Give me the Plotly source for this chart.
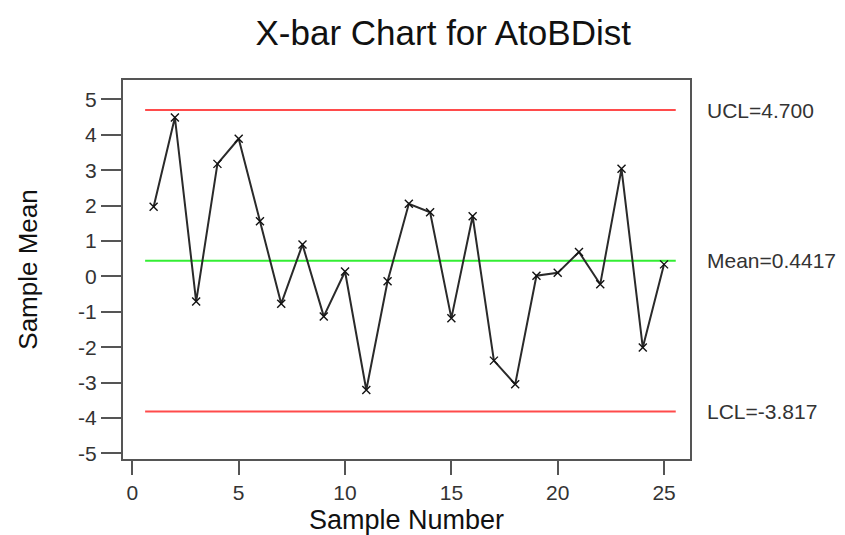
import plotly.graph_objects as go

samples = list(range(1, 26))
means = [1.97, 4.49, -0.71, 3.18, 3.89, 1.56, -0.77, 0.90, -1.13, 0.14,
         -3.21, -0.14, 2.05, 1.81, -1.18, 1.70, -2.38, -3.05, 0.02, 0.10,
         0.69, -0.22, 3.04, -2.01, 0.34]
ucl = 4.700
center = 0.4417
lcl = -3.817
limit_labels = ["UCL=4.700", "Mean=0.4417", "LCL=-3.817"]
limit_values = [ucl, center, lcl]
limit_colors = ["#ff4b4b", "#33ee33", "#ff4b4b"]
yticks = list(range(-5, 6))
ytick_text = [str(v) for v in yticks]
xticks = [0, 5, 10, 15, 20, 25]

FONT = "Liberation Sans, Arial"

fig = go.Figure()
for v, c in zip(limit_values, limit_colors):
    fig.add_trace(go.Scatter(x=[0.6, 25.55], y=[v, v], mode="lines",
                             line=dict(color=c, width=2), hoverinfo="skip",
                             showlegend=False))
fig.add_trace(go.Scatter(x=samples, y=means, mode="lines+markers",
                         line=dict(color="#2a2a2a", width=2),
                         marker=dict(symbol="x-thin", size=8,
                                     line=dict(color="#111", width=1.4),
                                     color="#111"),
                         showlegend=False))
for lbl, v in zip(limit_labels, limit_values):
    fig.add_annotation(x=1.0, xref="paper", xanchor="left", xshift=15,
                       y=v, yref="y", text=lbl, showarrow=False,
                       font=dict(family=FONT, size=21, color="#333"))

axis_font = dict(family=FONT, size=21, color="#333")
fig.update_layout(
    width=837, height=527,
    margin=dict(l=115, r=155, t=72, b=76),
    paper_bgcolor="white", plot_bgcolor="white",
    title=dict(text="X-bar Chart for AtoBDist", x=0.52, xanchor="center",
               y=1 - 25 / 527, yanchor="middle",
               font=dict(family=FONT, size=35, color="#111")),
    xaxis=dict(range=[-0.44, 26.22], tickvals=xticks, ticks="outside",
               ticklen=14, tickwidth=2, tickcolor="#555",
               showline=True, linecolor="#555", linewidth=2, mirror=True,
               showgrid=False, zeroline=False, tickfont=axis_font,
               automargin=False,
               title=dict(text="Sample Number", standoff=7,
                          font=dict(family=FONT, size=27, color="#111"))),
    yaxis=dict(range=[-5.16, 5.55], tickvals=yticks, ticktext=ytick_text,
               ticks="outside",
               ticklen=20, tickwidth=2, tickcolor="#555",
               showline=True, linecolor="#555", linewidth=2, mirror=True,
               showgrid=False, zeroline=False, tickfont=axis_font,
               automargin=False,
               title=dict(text="Sample Mean", standoff=33,
                          font=dict(family=FONT, size=26, color="#111"))),
)
fig.write_html("out.html")
